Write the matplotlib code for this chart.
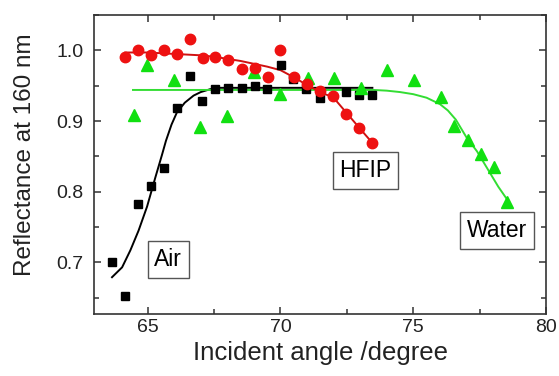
import matplotlib.pyplot as plt
from matplotlib.ticker import MultipleLocator

plt.rcParams['font.family'] = ['Liberation Sans', 'DejaVu Sans']

### measured points
air_x = [63.66, 64.14, 64.62, 65.12, 65.63, 66.10, 66.58, 67.06, 67.54, 68.04,
         68.54, 69.03, 69.50, 70.01, 70.48, 70.98, 71.48, 72.46, 72.96, 73.43]
air_y = [0.700, 0.652, 0.782, 0.808, 0.834, 0.918, 0.964, 0.928, 0.946, 0.947,
         0.947, 0.949, 0.945, 0.980, 0.960, 0.945, 0.933, 0.941, 0.937, 0.937]

hfip_x = [64.16, 64.64, 65.13, 65.62, 66.10, 66.60, 67.08, 67.55, 68.04, 68.54,
          69.04, 69.53, 70.00, 70.50, 71.00, 71.48, 71.98, 72.46, 72.96, 73.46]
hfip_y = [0.991, 1.001, 0.993, 1.000, 0.995, 1.016, 0.989, 0.991, 0.986, 0.974,
          0.975, 0.963, 1.000, 0.962, 0.952, 0.943, 0.935, 0.910, 0.890, 0.869]

water_x = [64.47, 64.98, 65.98, 66.98, 68.00, 69.00, 70.00, 71.02, 72.00, 73.02,
           74.02, 75.04, 76.05, 76.55, 77.05, 77.55, 78.05, 78.51]
water_y = [0.909, 0.979, 0.958, 0.892, 0.907, 0.969, 0.938, 0.961, 0.961, 0.947,
           0.972, 0.958, 0.934, 0.893, 0.873, 0.854, 0.835, 0.785]

### fitted curves
air_fit_x = [63.66, 64.04, 64.35, 64.66, 64.98, 65.29, 65.54, 65.69, 65.90, 66.10,
             66.40, 66.73, 67.00, 67.35, 67.70, 68.5, 70.0, 72.0, 73.46]
air_fit_y = [0.679, 0.693, 0.717, 0.745, 0.779, 0.820, 0.852, 0.872, 0.895, 0.912,
             0.926, 0.936, 0.941, 0.945, 0.947, 0.947, 0.947, 0.947, 0.947]

hfip_fit_x = [64.16, 65.0, 66.0, 67.0, 67.5, 68.0, 68.5, 69.0, 69.5, 70.0,
              70.5, 71.0, 71.5, 72.0, 72.5, 73.0, 73.46]
hfip_fit_y = [0.997, 0.997, 0.995, 0.993, 0.991, 0.988, 0.985, 0.981, 0.977, 0.972,
              0.962, 0.951, 0.941, 0.933, 0.911, 0.889, 0.869]

water_fit_x = [64.45, 68.0, 72.0, 73.5, 74.0, 74.5, 75.0, 75.5, 76.0, 76.3,
               76.6, 77.0, 77.4, 77.8, 78.2, 78.55]
water_fit_y = [0.944, 0.944, 0.944, 0.944, 0.943, 0.941, 0.938, 0.933, 0.924, 0.915,
               0.902, 0.877, 0.857, 0.832, 0.807, 0.788]

fig = plt.figure(figsize=(5.59, 3.76), dpi=100)
ax = fig.add_axes([0.169, 0.165, 0.808, 0.795])

ax.plot(air_fit_x, air_fit_y, color='black', lw=1.4, zorder=2)
ax.plot(water_fit_x, water_fit_y, color='#33dd33', lw=1.4, zorder=2)
ax.plot(hfip_fit_x, hfip_fit_y, color='#d01010', lw=1.4, zorder=2)

ax.plot(air_x, air_y, 's', color='black', ms=6, zorder=3)
ax.plot(water_x, water_y, '^', color='#11e011', ms=8, zorder=4)
ax.plot(hfip_x, hfip_y, 'o', color='#ee1111', ms=7.5, zorder=5)

box = dict(boxstyle='square,pad=0.3', facecolor='white', edgecolor='#555555', lw=1)
ax.text(65.78, 0.7045, 'Air', fontsize=16.5, ha='center', va='center', bbox=box)
ax.text(73.2, 0.8296, 'HFIP', fontsize=16.5, ha='center', va='center', bbox=box)
ax.text(78.15, 0.745, 'Water', fontsize=16.5, ha='center', va='center', bbox=box)

ax.set_xlim(63.0, 80.0)
ax.set_ylim(0.627, 1.05)
ax.xaxis.set_major_locator(MultipleLocator(5))
ax.xaxis.set_minor_locator(MultipleLocator(2.5))
ax.yaxis.set_minor_locator(MultipleLocator(0.05))
ax.set_yticks([0.7, 0.8, 0.9, 1.0])
ax.set_yticklabels(['0.7', '0.8', '0.9', '1.0'])

ax.tick_params(which='both', direction='in', top=True, right=True, colors='#333333',
               labelcolor='#222222', labelsize=14, width=1.1)
ax.tick_params(which='major', length=5)
ax.tick_params(which='minor', length=3.5)
ax.tick_params(axis='y', which='major', pad=8)
for s in ax.spines.values():
    s.set_color('#333333')
    s.set_linewidth(1.2)

ax.set_xlabel('Incident angle /degree', fontsize=18.5, color='#222222', labelpad=4)
ax.set_ylabel('Reflectance at 160 nm', fontsize=17.5, color='#222222')
ax.yaxis.set_label_coords(-0.13, 0.532)

plt.savefig('out.png', dpi=100)
